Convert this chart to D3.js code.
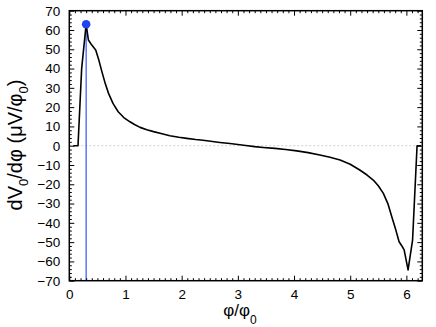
<!DOCTYPE html>
<html>
<head>
<meta charset="utf-8">
<script src="https://cdn.jsdelivr.net/npm/d3@7"></script>
<style>
  body { margin: 0; background: #fff; }
  svg { display: block; font-family: 'Liberation Sans', Arial, sans-serif; }
</style>
</head>
<body>
<svg id="chart" width="436" height="327"></svg>
<script>
const phi = [0.07, 0.155, 0.22, 0.30, 0.34, 0.39, 0.47, 0.52, 0.58, 0.64, 0.70, 0.78, 0.87, 0.97, 1.08, 1.16, 1.26, 1.38, 1.5, 1.65, 1.79, 1.95, 2.09, 2.25, 2.38, 2.55, 2.68, 2.86, 3.0, 3.14, 3.3, 3.45, 3.66, 3.85, 4.05, 4.25, 4.46, 4.64, 4.82, 5.0, 5.17, 5.3, 5.41, 5.5, 5.59, 5.67, 5.74, 5.81, 5.87, 5.92, 5.96, 6.03, 6.11, 6.19, 6.26];
const dV = [0, 0, 40, 63, 54.8, 52.6, 49.6, 45, 38.4, 32.2, 27, 21.8, 17.6, 14.6, 12.4, 11, 9.5, 8.3, 7.3, 6.2, 5.2, 4.4, 3.8, 3.2, 2.8, 2.2, 1.7, 1.1, 0.6, 0.1, -0.5, -0.9, -1.4, -2.0, -2.7, -3.6, -4.8, -6.0, -7.4, -9.6, -12.6, -15.2, -17.8, -20.8, -24.7, -30, -36.8, -43.5, -49.8, -52, -54, -64.4, -48.9, 0, 0];
const peakPhi = 0.30;
const peakVal = 63;
const xTicks = [0, 1, 2, 3, 4, 5, 6];
const yTicks = [-70, -60, -50, -40, -30, -20, -10, 0, 10, 20, 30, 40, 50, 60, 70];

const svg = d3.select('#chart');
const mLeft = 69.3, mRight = 422.3, mTop = 10.7, mBottom = 280.7;

const x = d3.scaleLinear().domain([0, 2 * Math.PI]).range([mLeft, mRight]);
const y = d3.scaleLinear().domain([-70, 70]).range([mBottom, mTop]);

const xMinor = d3.range(0, 6.3, 0.1).filter(v => Math.abs(v - Math.round(v)) > 1e-6);
const yMinor = d3.range(-70, 71, 2).filter(v => v % 10 !== 0);

// zero line
svg.append('line')
  .attr('x1', mLeft).attr('x2', mRight)
  .attr('y1', y(0)).attr('y2', y(0))
  .attr('stroke', '#cfcfcf').attr('stroke-width', 1)
  .attr('stroke-dasharray', '2,2');

// blue marker line
svg.append('line')
  .attr('x1', x(peakPhi)).attr('x2', x(peakPhi))
  .attr('y1', y(peakVal)).attr('y2', mBottom)
  .attr('stroke', '#2f55ff').attr('stroke-width', 1.2);

const line = d3.line()
  .x((d, i) => x(phi[i]))
  .y((d, i) => y(dV[i]));

svg.append('path')
  .attr('d', line(phi))
  .attr('fill', 'none')
  .attr('stroke', '#000')
  .attr('stroke-width', 1.6)
  .attr('stroke-linejoin', 'round');

svg.append('circle')
  .attr('cx', x(peakPhi)).attr('cy', y(peakVal)).attr('r', 4.3)
  .attr('fill', '#2244ee');

// axes, ticks inward
function styleAxis(g) {
  g.select('.domain').remove();
  g.selectAll('line').attr('stroke', '#000').attr('stroke-width', 1);
  g.selectAll('text').attr('font-size', 13.5).attr('fill', '#000');
}

svg.append('g').attr('transform', `translate(0,${mBottom})`)
  .call(d3.axisBottom(x).tickValues(xTicks).tickSize(-5).tickPadding(9).tickFormat(d3.format('d')))
  .call(styleAxis);
svg.append('g').attr('transform', `translate(0,${mBottom})`)
  .call(d3.axisBottom(x).tickValues(xMinor).tickSize(-2.5).tickFormat(''))
  .call(styleAxis);
svg.append('g').attr('transform', `translate(0,${mTop})`)
  .call(d3.axisTop(x).tickValues(xTicks).tickSize(-5).tickFormat(''))
  .call(styleAxis);
svg.append('g').attr('transform', `translate(0,${mTop})`)
  .call(d3.axisTop(x).tickValues(xMinor).tickSize(-2.5).tickFormat(''))
  .call(styleAxis);

svg.append('g').attr('transform', `translate(${mLeft},0)`)
  .call(d3.axisLeft(y).tickValues(yTicks).tickSize(-5).tickPadding(9).tickFormat(d3.format('d')))
  .call(styleAxis);
svg.append('g').attr('transform', `translate(${mLeft},0)`)
  .call(d3.axisLeft(y).tickValues(yMinor).tickSize(-2.5).tickFormat(''))
  .call(styleAxis);
svg.append('g').attr('transform', `translate(${mRight},0)`)
  .call(d3.axisRight(y).tickValues(yTicks).tickSize(-5).tickFormat(''))
  .call(styleAxis);
svg.append('g').attr('transform', `translate(${mRight},0)`)
  .call(d3.axisRight(y).tickValues(yMinor).tickSize(-2.5).tickFormat(''))
  .call(styleAxis);

svg.append('rect')
  .attr('x', mLeft).attr('y', mTop)
  .attr('width', mRight - mLeft).attr('height', mBottom - mTop)
  .attr('fill', 'none').attr('stroke', '#000').attr('stroke-width', 1.5);

// axis titles
const xt = svg.append('text')
  .attr('x', 240).attr('y', 316)
  .attr('text-anchor', 'middle')
  .attr('font-size', 17);
xt.append('tspan').text('φ/φ');
xt.append('tspan').attr('font-size', 12).attr('dy', 8).text('0');

const yt = svg.append('text')
  .attr('transform', 'translate(22,145) rotate(-90)')
  .attr('text-anchor', 'middle')
  .attr('font-size', 20);
yt.append('tspan').text('dV');
yt.append('tspan').attr('font-size', 13).attr('dy', 6).text('0');
yt.append('tspan').attr('dy', -6).text('/dφ (μV/φ');
yt.append('tspan').attr('font-size', 13).attr('dy', 6).text('0');
yt.append('tspan').attr('dy', -6).text(')');
</script>
</body>
</html>
